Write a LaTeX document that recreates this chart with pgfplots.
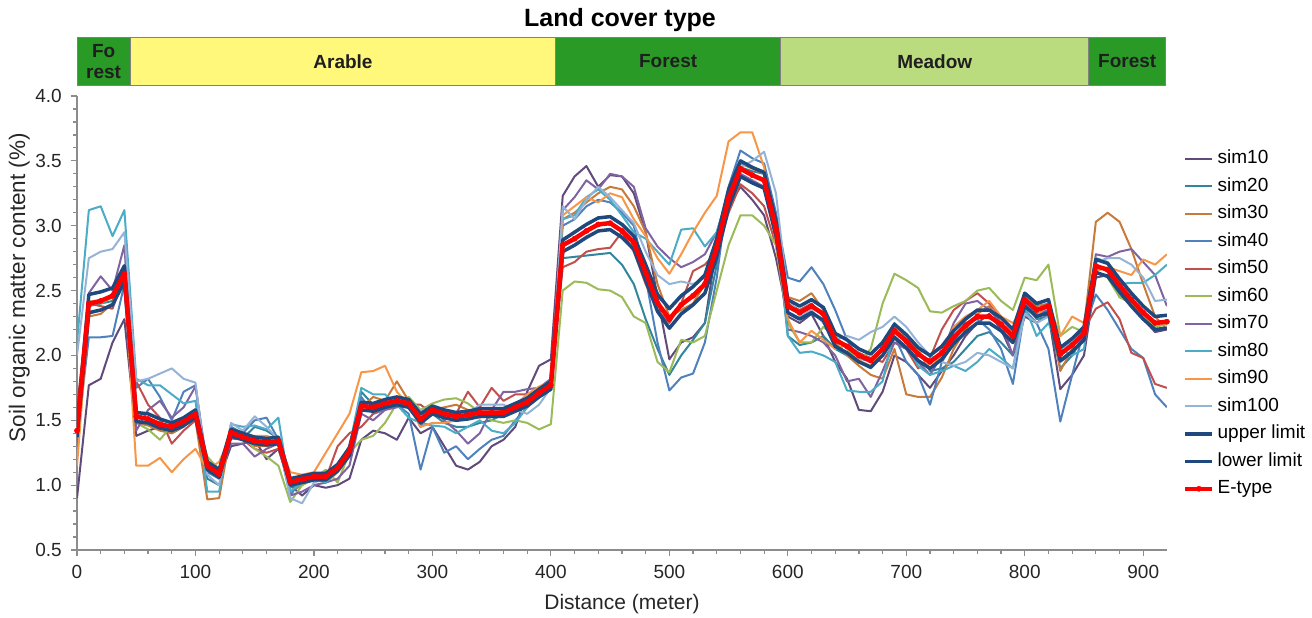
\documentclass[border=0pt]{standalone}
\usepackage{fontspec}
\setmainfont{Liberation Sans}
\usepackage{pgfplots}
\usepackage{pgfplotstable}
\pgfplotsset{compat=1.18}

\definecolor{cS10}{HTML}{604A7B}
\definecolor{cS20}{HTML}{31859C}
\definecolor{cS30}{HTML}{C87A3A}
\definecolor{cS40}{HTML}{4F81BD}
\definecolor{cS50}{HTML}{C0504D}
\definecolor{cS60}{HTML}{9BBB59}
\definecolor{cS70}{HTML}{8064A2}
\definecolor{cS80}{HTML}{4BACC6}
\definecolor{cS90}{HTML}{F79646}
\definecolor{cS100}{HTML}{95B3D7}
\definecolor{cLim}{HTML}{1F497D}
\definecolor{cForest}{HTML}{2A9A27}
\definecolor{cArable}{HTML}{FFF87A}
\definecolor{cMeadow}{HTML}{BADC7E}
\definecolor{axgray}{HTML}{8C8C8C}

\pgfplotstableread{
x e up lo s10 s20 s30 s40 s50 s60 s70 s80 s90 s100
0 1.42 1.45 1.37 0.90 1.55 1.40 1.35 1.60 1.50 1.30 2.10 1.15 2.00
10 2.40 2.47 2.33 1.77 2.38 2.30 2.14 2.40 2.42 2.48 3.12 2.32 2.75
20 2.42 2.49 2.35 1.82 2.40 2.32 2.14 2.38 2.40 2.61 3.15 2.35 2.80
30 2.46 2.52 2.39 2.10 2.42 2.40 2.15 2.36 2.45 2.50 2.92 2.40 2.82
40 2.63 2.69 2.57 2.28 2.62 2.60 2.55 2.62 2.70 2.85 3.12 2.60 2.95
50 1.53 1.56 1.49 1.38 1.52 1.48 1.75 1.80 1.48 1.42 1.82 1.15 1.80
60 1.51 1.55 1.48 1.42 1.50 1.46 1.82 1.62 1.43 1.58 1.77 1.15 1.82
70 1.47 1.51 1.44 1.45 1.46 1.42 1.68 1.52 1.35 1.65 1.77 1.21 1.86
80 1.45 1.48 1.42 1.40 1.44 1.40 1.50 1.32 1.46 1.52 1.70 1.10 1.90
90 1.49 1.52 1.46 1.45 1.48 1.46 1.72 1.42 1.50 1.60 1.63 1.20 1.82
100 1.55 1.58 1.52 1.55 1.54 1.50 1.77 1.50 1.54 1.76 1.65 1.28 1.79
110 1.15 1.18 1.12 1.12 1.05 0.89 1.10 1.18 1.22 1.15 0.95 1.12 1.08
120 1.085 1.12 1.06 1.05 1.00 0.90 1.05 1.10 1.12 1.10 0.95 1.18 1.00
130 1.405 1.43 1.38 1.30 1.38 1.42 1.45 1.36 1.40 1.32 1.47 1.38 1.48
140 1.37 1.40 1.35 1.32 1.36 1.40 1.40 1.35 1.38 1.32 1.45 1.38 1.42
150 1.34 1.37 1.32 1.35 1.45 1.30 1.50 1.28 1.28 1.22 1.46 1.38 1.53
160 1.33 1.36 1.31 1.20 1.42 1.30 1.52 1.25 1.22 1.28 1.43 1.38 1.45
170 1.34 1.37 1.32 1.28 1.36 1.32 1.35 1.28 1.15 1.32 1.52 1.35 1.35
180 1.025 1.05 1.00 1.00 0.98 0.95 0.92 1.00 0.87 0.92 0.95 1.10 0.90
190 1.045 1.07 1.02 0.92 1.02 1.00 1.05 1.08 1.00 0.95 1.02 1.08 0.86
200 1.065 1.09 1.04 1.00 1.05 1.05 1.08 1.05 1.05 1.00 1.05 1.10 1.02
210 1.065 1.09 1.04 0.98 1.10 1.02 1.10 1.05 1.12 1.02 1.02 1.25 1.05
220 1.135 1.16 1.11 1.00 1.15 1.10 1.12 1.30 1.02 1.05 1.12 1.40 1.15
230 1.26 1.29 1.23 1.05 1.25 1.22 1.30 1.40 1.25 1.15 1.30 1.55 1.30
240 1.61 1.64 1.58 1.35 1.72 1.60 1.68 1.45 1.35 1.55 1.75 1.87 1.62
250 1.60 1.63 1.57 1.42 1.62 1.68 1.55 1.55 1.38 1.50 1.70 1.88 1.58
260 1.63 1.66 1.60 1.40 1.62 1.65 1.58 1.60 1.48 1.58 1.70 1.92 1.62
270 1.65 1.68 1.62 1.35 1.66 1.80 1.62 1.62 1.63 1.60 1.62 1.72 1.65
280 1.63 1.66 1.60 1.52 1.60 1.65 1.55 1.62 1.68 1.62 1.52 1.62 1.60
290 1.51 1.55 1.48 1.40 1.52 1.45 1.12 1.62 1.58 1.45 1.48 1.45 1.58
300 1.58 1.61 1.55 1.45 1.55 1.58 1.45 1.55 1.63 1.60 1.46 1.48 1.55
310 1.55 1.58 1.52 1.30 1.48 1.60 1.25 1.58 1.66 1.50 1.45 1.48 1.52
320 1.53 1.56 1.50 1.15 1.45 1.62 1.30 1.55 1.67 1.42 1.40 1.50 1.50
330 1.54 1.57 1.51 1.12 1.45 1.58 1.20 1.72 1.63 1.32 1.45 1.53 1.55
340 1.56 1.59 1.53 1.18 1.48 1.55 1.28 1.60 1.56 1.40 1.50 1.52 1.62
350 1.56 1.59 1.53 1.30 1.50 1.55 1.35 1.75 1.50 1.58 1.42 1.55 1.62
360 1.56 1.59 1.53 1.35 1.55 1.58 1.38 1.65 1.48 1.72 1.40 1.56 1.62
370 1.60 1.63 1.57 1.45 1.62 1.62 1.50 1.70 1.50 1.72 1.48 1.62 1.58
380 1.64 1.67 1.61 1.72 1.65 1.66 1.60 1.70 1.48 1.74 1.60 1.70 1.55
390 1.71 1.74 1.68 1.92 1.70 1.72 1.68 1.73 1.43 1.75 1.68 1.76 1.62
400 1.77 1.80 1.74 1.97 1.76 1.78 1.75 1.80 1.47 1.82 1.76 1.80 1.75
410 2.85 2.89 2.80 3.23 2.75 3.05 3.00 2.68 2.50 3.12 3.05 3.08 3.15
420 2.90 2.95 2.85 3.38 2.76 3.10 3.05 2.72 2.57 3.22 3.08 3.15 3.05
430 2.96 3.01 2.91 3.46 2.77 3.18 3.15 2.80 2.56 3.35 3.22 3.22 3.20
440 3.01 3.06 2.96 3.30 2.78 3.25 3.20 2.82 2.51 3.28 3.28 3.18 3.30
450 3.02 3.07 2.97 3.39 2.79 3.30 3.18 2.83 2.50 3.40 3.20 3.25 3.22
460 2.96 3.01 2.91 3.38 2.70 3.28 3.10 2.95 2.45 3.38 3.08 3.22 3.12
470 2.87 2.92 2.82 3.25 2.55 3.15 3.00 2.80 2.30 3.30 2.95 3.05 3.02
480 2.64 2.70 2.58 2.95 2.28 2.95 2.60 2.55 2.25 2.98 2.90 2.92 2.80
490 2.405 2.47 2.34 2.45 2.05 2.55 2.10 2.35 1.95 2.84 2.80 2.75 2.62
500 2.28 2.36 2.21 1.97 1.85 2.30 1.73 2.25 1.87 2.75 2.70 2.63 2.55
510 2.39 2.46 2.32 2.10 2.00 2.35 1.83 2.40 2.12 2.68 2.97 2.78 2.57
520 2.46 2.53 2.39 2.14 2.12 2.40 1.86 2.65 2.10 2.72 2.98 2.95 2.55
530 2.55 2.62 2.48 2.25 2.25 2.55 2.10 2.70 2.15 2.78 2.84 3.10 2.60
540 2.83 2.90 2.76 2.85 2.70 2.85 2.60 2.80 2.50 2.95 2.95 3.23 2.85
550 3.21 3.28 3.14 3.15 3.20 3.25 3.30 3.10 2.85 3.25 3.25 3.65 3.20
560 3.44 3.50 3.38 3.30 3.45 3.48 3.58 3.32 3.08 3.40 3.48 3.72 3.45
570 3.39 3.45 3.33 3.20 3.42 3.44 3.52 3.25 3.08 3.35 3.45 3.72 3.50
580 3.35 3.41 3.29 3.08 3.40 3.40 3.48 3.15 3.00 3.30 3.42 3.45 3.57
590 2.98 3.04 2.92 2.75 3.00 3.00 3.10 2.85 2.85 2.90 3.05 2.85 3.25
600 2.38 2.43 2.33 2.30 2.15 2.45 2.60 2.40 2.25 2.20 2.15 2.28 2.45
610 2.33 2.38 2.28 2.25 2.08 2.42 2.57 2.35 2.10 2.18 2.02 2.10 2.30
620 2.38 2.43 2.33 2.32 2.10 2.48 2.68 2.40 2.10 2.15 2.03 2.19 2.35
630 2.32 2.37 2.27 2.15 2.15 2.35 2.55 2.30 2.22 2.10 2.00 2.12 2.25
640 2.12 2.17 2.07 1.95 2.05 2.10 2.35 2.10 2.15 2.00 1.95 2.05 2.12
650 2.07 2.12 2.02 1.82 2.00 2.00 2.12 2.08 2.05 1.80 1.73 2.08 2.15
660 2.00 2.05 1.95 1.58 1.95 1.92 1.98 2.02 1.95 1.82 1.72 1.96 2.12
670 1.96 2.01 1.91 1.57 1.90 1.85 1.95 1.98 2.05 1.68 1.72 1.92 2.18
680 2.05 2.10 2.00 1.72 2.00 1.82 2.00 1.95 2.40 1.88 1.80 2.05 2.22
690 2.19 2.24 2.14 2.00 2.25 2.05 2.15 2.10 2.63 2.10 2.20 2.22 2.30
700 2.11 2.16 2.06 1.95 2.12 1.70 1.95 2.05 2.58 2.05 2.10 2.15 2.22
710 2.01 2.06 1.96 1.85 2.05 1.68 1.85 1.90 2.52 1.95 1.92 2.05 2.10
720 1.95 2.00 1.90 1.75 1.88 1.68 1.62 1.98 2.34 1.85 1.85 1.90 2.00
730 2.02 2.07 1.97 1.88 1.90 1.83 1.95 2.20 2.33 2.00 1.88 2.00 1.95
740 2.14 2.19 2.09 2.00 1.95 2.05 2.10 2.35 2.38 2.25 1.92 2.22 1.92
750 2.23 2.28 2.18 2.15 2.05 2.20 2.25 2.42 2.42 2.40 1.88 2.30 1.95
760 2.30 2.35 2.25 2.25 2.15 2.32 2.28 2.48 2.50 2.42 1.95 2.35 2.02
770 2.30 2.35 2.25 2.32 2.18 2.38 2.20 2.40 2.52 2.35 2.05 2.42 2.00
780 2.24 2.29 2.19 2.20 2.10 2.25 2.05 2.30 2.42 2.25 1.98 2.30 1.95
790 2.15 2.20 2.10 2.00 2.00 2.12 1.78 2.20 2.35 2.00 1.90 2.25 1.90
800 2.43 2.48 2.38 2.30 2.40 2.45 2.35 2.42 2.60 2.40 2.38 2.38 2.32
810 2.35 2.40 2.30 2.25 2.28 2.38 2.25 2.35 2.58 2.32 2.15 2.30 2.25
820 2.38 2.43 2.33 2.32 2.30 2.40 2.05 2.40 2.70 2.35 2.25 2.40 2.30
830 2.01 2.06 1.96 1.74 1.90 1.88 1.49 2.05 2.15 1.95 2.05 2.15 2.05
840 2.08 2.13 2.03 1.85 2.00 2.05 1.85 2.10 2.22 2.02 2.00 2.30 2.10
850 2.17 2.22 2.12 2.00 2.15 2.22 2.20 2.20 2.18 2.15 2.05 2.25 2.18
860 2.69 2.74 2.64 2.60 2.70 3.03 2.47 2.36 2.65 2.78 2.75 2.65 2.72
870 2.66 2.71 2.61 2.62 2.65 3.10 2.35 2.41 2.60 2.76 2.72 2.68 2.75
880 2.54 2.59 2.49 2.52 2.45 3.03 2.20 2.28 2.45 2.80 2.55 2.65 2.75
890 2.43 2.48 2.38 2.40 2.42 2.82 2.05 2.02 2.40 2.82 2.56 2.62 2.70
900 2.33 2.38 2.28 2.28 2.32 2.55 1.98 1.98 2.30 2.72 2.56 2.74 2.60
910 2.25 2.30 2.20 2.18 2.25 2.30 1.70 1.78 2.22 2.62 2.62 2.70 2.42
920 2.26 2.31 2.21 2.20 2.25 2.20 1.60 1.75 2.24 2.38 2.70 2.78 2.43
}\data

\begin{document}
\begin{tikzpicture}
\path[use as bounding box] (0pt,0pt) rectangle (1312pt,-618pt);

\node[font=\bfseries\fontsize{25}{30}\selectfont, inner sep=0pt] at (620pt,-20pt) {Land cover type};

% land cover band
\begin{axis}[
  at={(77pt,-85pt)}, anchor=south west,
  scale only axis, width=1090pt, height=47pt,
  xmin=0, xmax=920, ymin=0, ymax=1,
  hide axis, clip=false,
]
\addplot[draw=gray, line width=1pt, fill=cForest] coordinates {(0,0) (45,0) (45,1) (0,1) (0,0)};
\addplot[draw=gray, line width=1pt, fill=cArable] coordinates {(45,0) (404,0) (404,1) (45,1) (45,0)};
\addplot[draw=gray, line width=1pt, fill=cForest] coordinates {(404,0) (594,0) (594,1) (404,1) (404,0)};
\addplot[draw=gray, line width=1pt, fill=cMeadow] coordinates {(594,0) (854,0) (854,1) (594,1) (594,0)};
\addplot[draw=gray, line width=1pt, fill=cForest] coordinates {(854,0) (919,0) (919,1) (854,1) (854,0)};
\begin{scope}[every node/.style={font=\bfseries\fontsize{19}{21}\selectfont, text=black!88, align=center, inner sep=0pt}]
\node at (axis cs:22.5,0.5) {Fo\\rest};
\node at (axis cs:224.5,0.5) {Arable};
\node at (axis cs:499,0.5) {Forest};
\node at (axis cs:724,0.5) {Meadow};
\node at (axis cs:886.5,0.5) {Forest};
\end{scope}
\end{axis}

% main chart
\begin{axis}[
  at={(77pt,-550pt)}, anchor=south west,
  scale only axis, width=1090pt, height=454pt,
  xmin=0, xmax=920, ymin=0.5, ymax=4.0,
  axis lines=left,
  axis line style={draw=axgray, line width=1.5pt, -},
  xtick={0,100,...,900}, minor x tick num=4,
  ytick={0.5,1.0,...,4.0}, minor y tick num=4,
  tick align=outside,
  major tick length=6pt, minor tick length=3.5pt,
  every tick/.style={draw=axgray, line width=1.2pt},
  tick label style={font=\fontsize{19}{22}\selectfont, text=black!85},
  /pgf/number format/assume math mode=true,
  yticklabel style={/pgf/number format/.cd, fixed, fixed zerofill, precision=1, /tikz/.cd, anchor=east, inner sep=0pt, xshift=-9pt},
  xticklabel style={anchor=base, inner sep=0pt, yshift=-22pt},
  xlabel={Distance (meter)},
  xlabel style={at={(axis description cs:0.5,-0.132)}, anchor=base, inner sep=0pt, font=\fontsize{21}{24}\selectfont, text=black!85},
  ylabel={Soil organic matter content (\%)},
  ylabel style={at={(axis description cs:-0.0475,0.578)}, anchor=base, inner sep=0pt, font=\fontsize{22.5}{26}\selectfont, text=black!85},
  legend cell align=left,
  legend style={at={(1.0147,0.882)}, anchor=north west, draw=none, fill=none,
    font=\fontsize{19}{22}\selectfont, inner sep=0pt, row sep=9.5pt, column sep=3pt,
    nodes={inner sep=0pt, text height=14pt, text depth=4pt}},
  legend image code/.code={\draw[mark repeat=2,mark phase=2,#1] plot coordinates {(0pt,0pt) (13.5pt,0pt) (27pt,0pt)};},
  every axis plot/.append style={line join=round},
]
\addplot[cS10, line width=2pt] table[x=x, y=s10] {\data}; \addlegendentry{sim10}
\addplot[cS20, line width=2pt] table[x=x, y=s20] {\data}; \addlegendentry{sim20}
\addplot[cS30, line width=2pt] table[x=x, y=s30] {\data}; \addlegendentry{sim30}
\addplot[cS40, line width=2pt] table[x=x, y=s40] {\data}; \addlegendentry{sim40}
\addplot[cS50, line width=2pt] table[x=x, y=s50] {\data}; \addlegendentry{sim50}
\addplot[cS60, line width=2pt] table[x=x, y=s60] {\data}; \addlegendentry{sim60}
\addplot[cS70, line width=2pt] table[x=x, y=s70] {\data}; \addlegendentry{sim70}
\addplot[cS80, line width=2pt] table[x=x, y=s80] {\data}; \addlegendentry{sim80}
\addplot[cS90, line width=2pt] table[x=x, y=s90] {\data}; \addlegendentry{sim90}
\addplot[cS100, line width=2pt] table[x=x, y=s100] {\data}; \addlegendentry{sim100}
\addplot[cLim, line width=3.5pt] table[x=x, y=up] {\data}; \addlegendentry{upper limit}
\addplot[cLim, line width=3.5pt] table[x=x, y=lo] {\data}; \addlegendentry{lower limit}
\addplot[red, line width=4.5pt, mark=*, mark size=2.6pt, mark options={fill=red, draw=red, line width=0.5pt}] table[x=x, y=e] {\data}; \addlegendentry{E-type}
\end{axis}
\end{tikzpicture}
\end{document}
